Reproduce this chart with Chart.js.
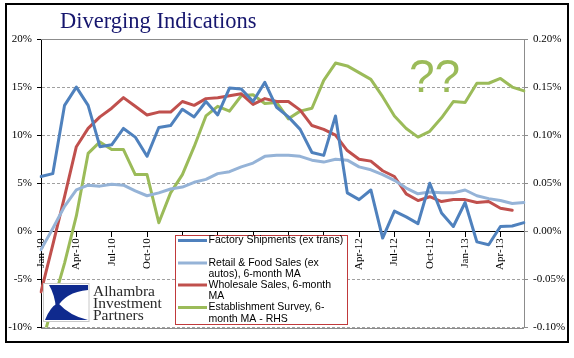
<!DOCTYPE html>
<html>
<head>
<meta charset="utf-8">
<script src="https://cdn.jsdelivr.net/npm/chart.js@4.4.1/dist/chart.umd.min.js"></script>
<style>
    html, body { margin: 0; padding: 0; background: #fff; }
    canvas { display: block; }
</style>
</head>
<body>
<canvas id="divergingChart" width="574" height="358"></canvas>
<script>
const months = [
    'Jan-10', 'Feb-10', 'Mar-10', 'Apr-10', 'May-10', 'Jun-10', 'Jul-10', 'Aug-10', 'Sep-10', 'Oct-10', 'Nov-10', 'Dec-10',
    'Jan-11', 'Feb-11', 'Mar-11', 'Apr-11', 'May-11', 'Jun-11', 'Jul-11', 'Aug-11', 'Sep-11', 'Oct-11', 'Nov-11', 'Dec-11',
    'Jan-12', 'Feb-12', 'Mar-12', 'Apr-12', 'May-12', 'Jun-12', 'Jul-12', 'Aug-12', 'Sep-12', 'Oct-12', 'Nov-12', 'Dec-12',
    'Jan-13', 'Feb-13', 'Mar-13', 'Apr-13', 'May-13', 'Jun-13'
];

// left axis, % y/y
const factoryShipments = [
    5.7, 6.0, 13.1, 15.0, 13.1, 8.8, 9.0, 10.7, 9.8, 7.8, 10.8, 11.0,
    12.7, 11.9, 13.5, 12.1, 14.9, 14.8, 13.5, 15.5, 12.9, 11.9, 10.6, 8.2,
    7.9, 12.0, 4.0, 3.3, 4.3, -0.7, 2.1, 1.5, 0.8, 5.0, 1.9, 0.5,
    3.0, -1.1, -1.4, 0.5, 0.55, 0.9
];
const retailFoodSales = [
    -1.9, 0.3, 2.6, 4.3, 4.8, 4.7, 4.9, 4.8, 4.2, 3.7, 4.0, 4.4,
    4.6, 5.1, 5.4, 6.0, 6.2, 6.7, 7.1, 7.8, 7.9, 7.9, 7.8, 7.4,
    7.2, 7.5, 7.4, 6.7, 6.4, 5.9, 5.3, 4.5, 3.9, 4.1, 4.0, 4.0,
    4.3, 3.7, 3.4, 3.2, 2.9, 3.0
];
const wholesaleSales = [
    -6.3, -1.4, 3.6, 8.8, 10.7, 11.9, 12.8, 13.9, 13.0, 12.1, 12.4, 12.4,
    13.5, 13.1, 13.8, 13.9, 14.1, 14.3, 13.2, 13.8, 13.5, 13.5, 12.6, 11.0,
    10.6, 10.0, 8.4, 7.5, 7.3, 6.3, 5.7, 3.9, 3.2, 3.6, 3.1, 3.3,
    3.3, 3.0, 3.1, 2.4, 2.2, null
];
// right axis (RHS), %
const establishmentSurvey = [
    -0.120, -0.076, -0.033, 0.016, 0.081, 0.093, 0.085, 0.085, 0.059, 0.059, 0.009, 0.040,
    0.059, 0.088, 0.120, 0.130, 0.125, 0.141, 0.142, 0.133, 0.134, 0.117, 0.125, 0.128,
    0.157, 0.175, 0.172, 0.165, 0.158, 0.140, 0.120, 0.107, 0.098, 0.104, 0.118, 0.135,
    0.134, 0.154, 0.154, 0.159, 0.150, 0.146
];

const leftTicks = [-10, -5, 0, 5, 10, 15, 20];
const rightTicks = [-0.10, -0.05, 0, 0.05, 0.10, 0.15, 0.20];

const seriesColors = ['#4f81bd', '#95b3d7', '#c0504d', '#9bbb59'];
const legendLabels = [
    ['Factory Shipments (ex trans)'],
    ['Retail & Food Sales (ex', 'autos), 6-month MA'],
    ['Wholesale Sales, 6-month', 'MA'],
    ['Establishment Survey, 6-', 'month MA - RHS']
];
const titleText = 'Diverging Indications';
const noteText = '??';
const logoLines = ['Alhambra', 'Investment', 'Partners'];

const serif = '"Liberation Serif", "Times New Roman", serif';
const sans = '"Liberation Sans", Arial, sans-serif';

const decorations = {
    id: 'decorations',
    beforeDraw(chart) {
        const c = chart.ctx;
        c.save();
        c.fillStyle = '#fff';
        c.fillRect(0, 0, chart.width, chart.height);
        c.restore();
    },
    beforeDatasetsDraw(chart) {
        // solid plot border at top and bottom
        const c = chart.ctx;
        const a = chart.chartArea;
        c.save();
        c.strokeStyle = '#8c8c8c';
        c.lineWidth = 1;
        c.beginPath();
        c.moveTo(a.left, Math.round(a.top) + 0.5);
        c.lineTo(a.right, Math.round(a.top) + 0.5);
        c.moveTo(a.left, Math.round(a.bottom) + 0.5);
        c.lineTo(a.right, Math.round(a.bottom) + 0.5);
        c.stroke();
        c.restore();
    },
    afterDraw(chart) {
        const c = chart.ctx;
        c.save();

        // title
        c.fillStyle = '#16166e';
        c.font = '22.5px ' + serif;
        c.textAlign = 'left';
        c.textBaseline = 'alphabetic';
        c.fillText(titleText, 60, 28);

        // question marks
        c.fillStyle = '#9bbb59';
        c.font = '46px "Liberation Sans Narrow", "Arial Narrow", ' + sans;
        c.fillText(noteText, 409, 92);

        // legend
        const lx = 175.5, ly = 235.5, lw = 172, lh = 89;
        c.fillStyle = '#fff';
        c.fillRect(lx, ly, lw, lh);
        c.strokeStyle = '#c0393b';
        c.lineWidth = 1;
        c.strokeRect(lx, ly, lw, lh);
        const rowY = [240.5, 263, 285, 307.5];
        c.font = '10.5px ' + sans;
        c.textBaseline = 'middle';
        legendLabels.forEach((lines, k) => {
            c.strokeStyle = seriesColors[k];
            c.lineWidth = 3;
            c.beginPath();
            c.moveTo(178, rowY[k]);
            c.lineTo(207, rowY[k]);
            c.stroke();
            c.fillStyle = '#000';
            lines.forEach((t, j) => c.fillText(t, 208.5, rowY[k] + j * 11.5));
        });

        // logo
        c.fillStyle = '#fff';
        c.fillRect(43.5, 283.5, 45.5, 38);
        c.strokeStyle = '#c8c8c8';
        c.lineWidth = 1;
        c.strokeRect(43.5, 283.5, 45.5, 38);
        c.fillStyle = '#0f2a8e';
        c.beginPath();
        c.moveTo(49, 285);
        c.lineTo(88, 285);
        c.lineTo(88, 290);
        c.quadraticCurveTo(65, 292, 56, 309);
        c.quadraticCurveTo(55, 295, 49, 285);
        c.closePath();
        c.fill();
        c.beginPath();
        c.moveTo(45, 320);
        c.quadraticCurveTo(50, 307, 58, 303);
        c.quadraticCurveTo(70, 316, 88, 320);
        c.closePath();
        c.fill();
        c.fillStyle = '#2a2a2a';
        c.font = '15.5px ' + serif;
        c.textBaseline = 'alphabetic';
        logoLines.forEach((t, j) => c.fillText(t, 93, 295.5 + j * 12));

        // outer frame
        c.strokeStyle = '#000';
        c.lineWidth = 2;
        c.strokeRect(6, 4, 562, 338);
        c.restore();
    }
};

const ctx = document.getElementById('divergingChart');
const chart = new Chart(ctx, {
    type: 'line',
    data: {
        labels: months,
        datasets: [
            { label: legendLabels[0].join(' '), data: factoryShipments, borderColor: seriesColors[0], yAxisID: 'y' },
            { label: legendLabels[1].join(' '), data: retailFoodSales, borderColor: seriesColors[1], yAxisID: 'y' },
            { label: legendLabels[2].join(' '), data: wholesaleSales, borderColor: seriesColors[2], yAxisID: 'y' },
            { label: legendLabels[3].join(' '), data: establishmentSurvey, borderColor: seriesColors[3], yAxisID: 'y1' }
        ]
    },
    options: {
        responsive: false,
        animation: false,
        devicePixelRatio: 1,
        layout: { padding: { left: 6, right: 6, top: 39, bottom: 30.5 } },
        elements: {
            line: { borderWidth: 3, tension: 0, fill: false, borderJoinStyle: 'round', borderCapStyle: 'round' },
            point: { radius: 0, hoverRadius: 0 }
        },
        plugins: {
            legend: { display: false },
            title: { display: false },
            tooltip: { enabled: false }
        },
        scales: {
            x: {
                type: 'category',
                position: { y: 0 },
                afterFit: (scale) => { scale.height = 0; },
                grid: {
                    drawOnChartArea: false,
                    drawTicks: true,
                    tickLength: 5,
                    tickColor: (c) => (c.index % 3 === 0 ? '#000' : 'rgba(0,0,0,0)')
                },
                border: { color: '#000', width: 1 },
                ticks: {
                    autoSkip: false,
                    maxRotation: 90,
                    minRotation: 90,
                    padding: 2,
                    color: '#000',
                    font: { family: serif, size: 11 },
                    callback: (val, i) => (i % 3 === 0 ? months[i] : '')
                }
            },
            y: {
                type: 'linear',
                position: 'left',
                min: -10,
                max: 20,
                afterFit: (scale) => { scale.width = 35; },
                afterBuildTicks: (scale) => { scale.ticks = leftTicks.map(v => ({ value: v })); },
                grid: {
                    color: (c) => (c.tick && c.tick.value === 0 ? 'rgba(0,0,0,0)' : '#a0a0a0'),
                    tickColor: '#000',
                    tickLength: 4
                },
                border: { color: '#000', width: 1, dash: [3, 2] },
                ticks: {
                    padding: 5,
                    color: '#000',
                    font: { family: serif, size: 11 },
                    callback: (v) => v + '%'
                }
            },
            y1: {
                type: 'linear',
                position: 'right',
                min: -0.1,
                max: 0.2,
                afterFit: (scale) => { scale.width = 44; },
                afterBuildTicks: (scale) => { scale.ticks = rightTicks.map(v => ({ value: v })); },
                grid: {
                    drawOnChartArea: false,
                    tickColor: '#8c8c8c',
                    tickLength: 4
                },
                border: { color: '#8c8c8c', width: 1 },
                ticks: {
                    padding: 5,
                    color: '#000',
                    font: { family: serif, size: 11 },
                    callback: (v) => v.toFixed(2) + '%'
                }
            }
        }
    },
    plugins: [decorations]
});
</script>
</body>
</html>
